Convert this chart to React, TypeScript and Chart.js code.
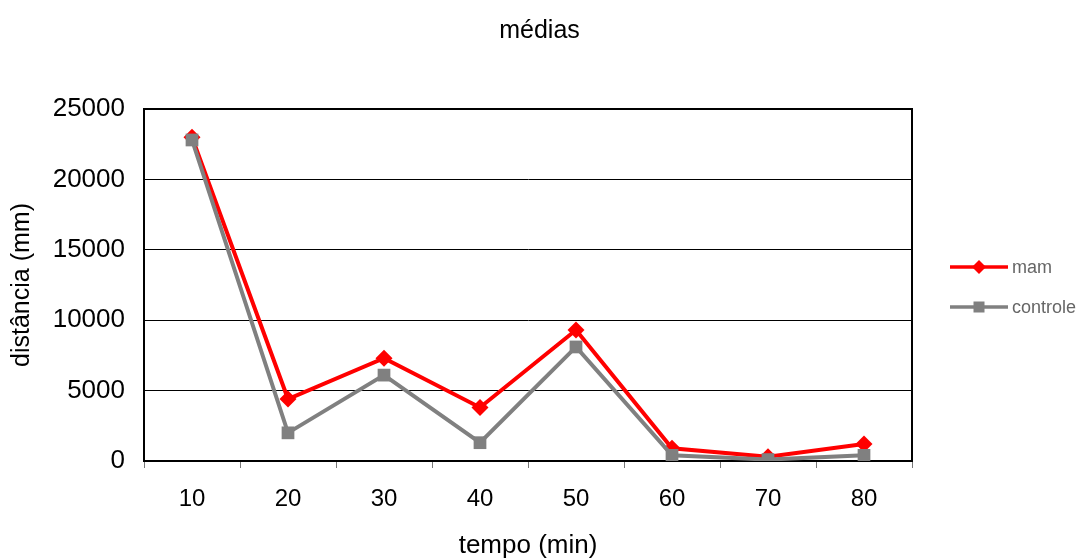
import React, { useEffect, useRef } from "react";
import { Chart, registerables } from "chart.js";

Chart.register(...registerables);

const categories = ["10", "20", "30", "40", "50", "60", "70", "80"];
const mamValues = [23000, 4400, 7300, 3800, 9300, 900, 300, 1200];
const controleValues = [22800, 2000, 6100, 1300, 8100, 400, 100, 400];
const seriesNames = ["mam", "controle"];
const chartTitle = "médias";
const xTitle = "tempo (min)";
const yTitle = "distância (mm)";

const FONT = "'Liberation Sans', Arial, sans-serif";

const borderPlugin = {
  id: "plotBorder",
  beforeDatasetsDraw(chart: any) {
    const { ctx, chartArea } = chart;
    ctx.save();
    ctx.strokeStyle = "#000";
    ctx.lineWidth = 2;
    ctx.strokeRect(chartArea.left, chartArea.top, chartArea.right - chartArea.left, chartArea.bottom - chartArea.top);
    ctx.restore();
  },
};

const legendPlugin = {
  id: "customLegend",
  afterDraw(chart: any) {
    const { ctx, chartArea } = chart;
    const x0 = chartArea.right + 38;
    const lineLen = 58;
    const midY = (chartArea.top + chartArea.bottom) / 2;
    const rows = [midY - 18, midY + 22];
    chart.data.datasets.forEach((ds: any, i: number) => {
      const y = rows[i];
      ctx.save();
      ctx.strokeStyle = ds.borderColor;
      ctx.lineWidth = 3.5;
      ctx.beginPath();
      ctx.moveTo(x0, y);
      ctx.lineTo(x0 + lineLen, y);
      ctx.stroke();
      ctx.fillStyle = ds.pointBackgroundColor;
      const cx = x0 + lineLen / 2;
      if (ds.pointStyle === "rectRot") {
        const r = 7;
        ctx.beginPath();
        ctx.moveTo(cx, y - r);
        ctx.lineTo(cx + r, y);
        ctx.lineTo(cx, y + r);
        ctx.lineTo(cx - r, y);
        ctx.closePath();
        ctx.fill();
      } else {
        const s = 11;
        ctx.fillRect(cx - s / 2, y - s / 2, s, s);
      }
      ctx.fillStyle = "#666";
      ctx.font = `18px ${FONT}`;
      ctx.textBaseline = "middle";
      ctx.textAlign = "left";
      ctx.fillText(ds.label, x0 + lineLen + 4, y + 1);
      ctx.restore();
    });
  },
};

export default function App() {
  const canvasRef = useRef<HTMLCanvasElement | null>(null);

  useEffect(() => {
    if (!canvasRef.current) return;
    const chart = new Chart(canvasRef.current, {
      type: "line",
      data: {
        labels: categories,
        datasets: [
          {
            label: seriesNames[0],
            data: mamValues,
            borderColor: "#FF0000",
            backgroundColor: "#FF0000",
            pointBackgroundColor: "#FF0000",
            pointBorderColor: "#FF0000",
            pointStyle: "rectRot",
            pointRadius: 8.5,
            pointBorderWidth: 0,
            borderWidth: 4,
            tension: 0,
            order: 1,
          },
          {
            label: seriesNames[1],
            data: controleValues,
            borderColor: "#808080",
            backgroundColor: "#808080",
            pointBackgroundColor: "#808080",
            pointBorderColor: "#808080",
            pointStyle: "rect",
            pointRadius: 9,
            pointBorderWidth: 0,
            borderWidth: 4,
            tension: 0,
            order: 0,
          },
        ],
      },
      plugins: [borderPlugin, legendPlugin],
      options: {
        animation: false,
        responsive: true,
        maintainAspectRatio: false,
        layout: { padding: 0 },
        plugins: {
          legend: { display: false },
          tooltip: { enabled: false },
          title: {
            display: true,
            text: chartTitle,
            color: "#000",
            font: { family: FONT, size: 25, weight: "normal", lineHeight: 1.2 },
            padding: { top: 16, bottom: 63 },
          },
        },
        scales: {
          x: {
            offset: true,
            grid: {
              offset: true,
              drawOnChartArea: false,
              drawTicks: true,
              tickLength: 7,
              color: "#777",
              lineWidth: 1,
            },
            border: { display: true, color: "#000", width: 2 },
            ticks: {
              color: "#000",
              padding: 17,
              font: { family: FONT, size: 24, lineHeight: 1.2 },
            },
            title: {
              display: true,
              text: xTitle,
              color: "#000",
              font: { family: FONT, size: 26, lineHeight: 1.0 },
              padding: { top: 0, bottom: 0 },
            },
            afterFit(scale: any) {
              scale.height = 98;
            },
          },
          y: {
            min: 0,
            max: 25000,
            ticks: {
              stepSize: 5000,
              color: "#000",
              padding: 19,
              font: { family: FONT, size: 26, lineHeight: 1.2 },
              callback: (v: any) => String(v),
            },
            grid: { color: "#000", lineWidth: 1, drawTicks: false },
            border: { display: true, color: "#000", width: 2 },
            title: {
              display: true,
              text: yTitle,
              color: "#000",
              font: { family: FONT, size: 25, lineHeight: 1.2 },
              padding: { top: 7, bottom: 0 },
            },
            afterFit(scale: any) {
              scale.width = 144;
            },
          },
          yRight: {
            position: "right",
            display: true,
            grid: { display: false, drawTicks: false },
            border: { display: false },
            ticks: { display: false },
            afterFit(scale: any) {
              scale.width = 167;
            },
          },
        },
      },
    });
    return () => chart.destroy();
  }, []);

  return (
    <div style={{ position: "fixed", left: 0, top: 0, width: 1079, height: 559, background: "#fff" }}>
      <canvas ref={canvasRef} />
    </div>
  );
}
